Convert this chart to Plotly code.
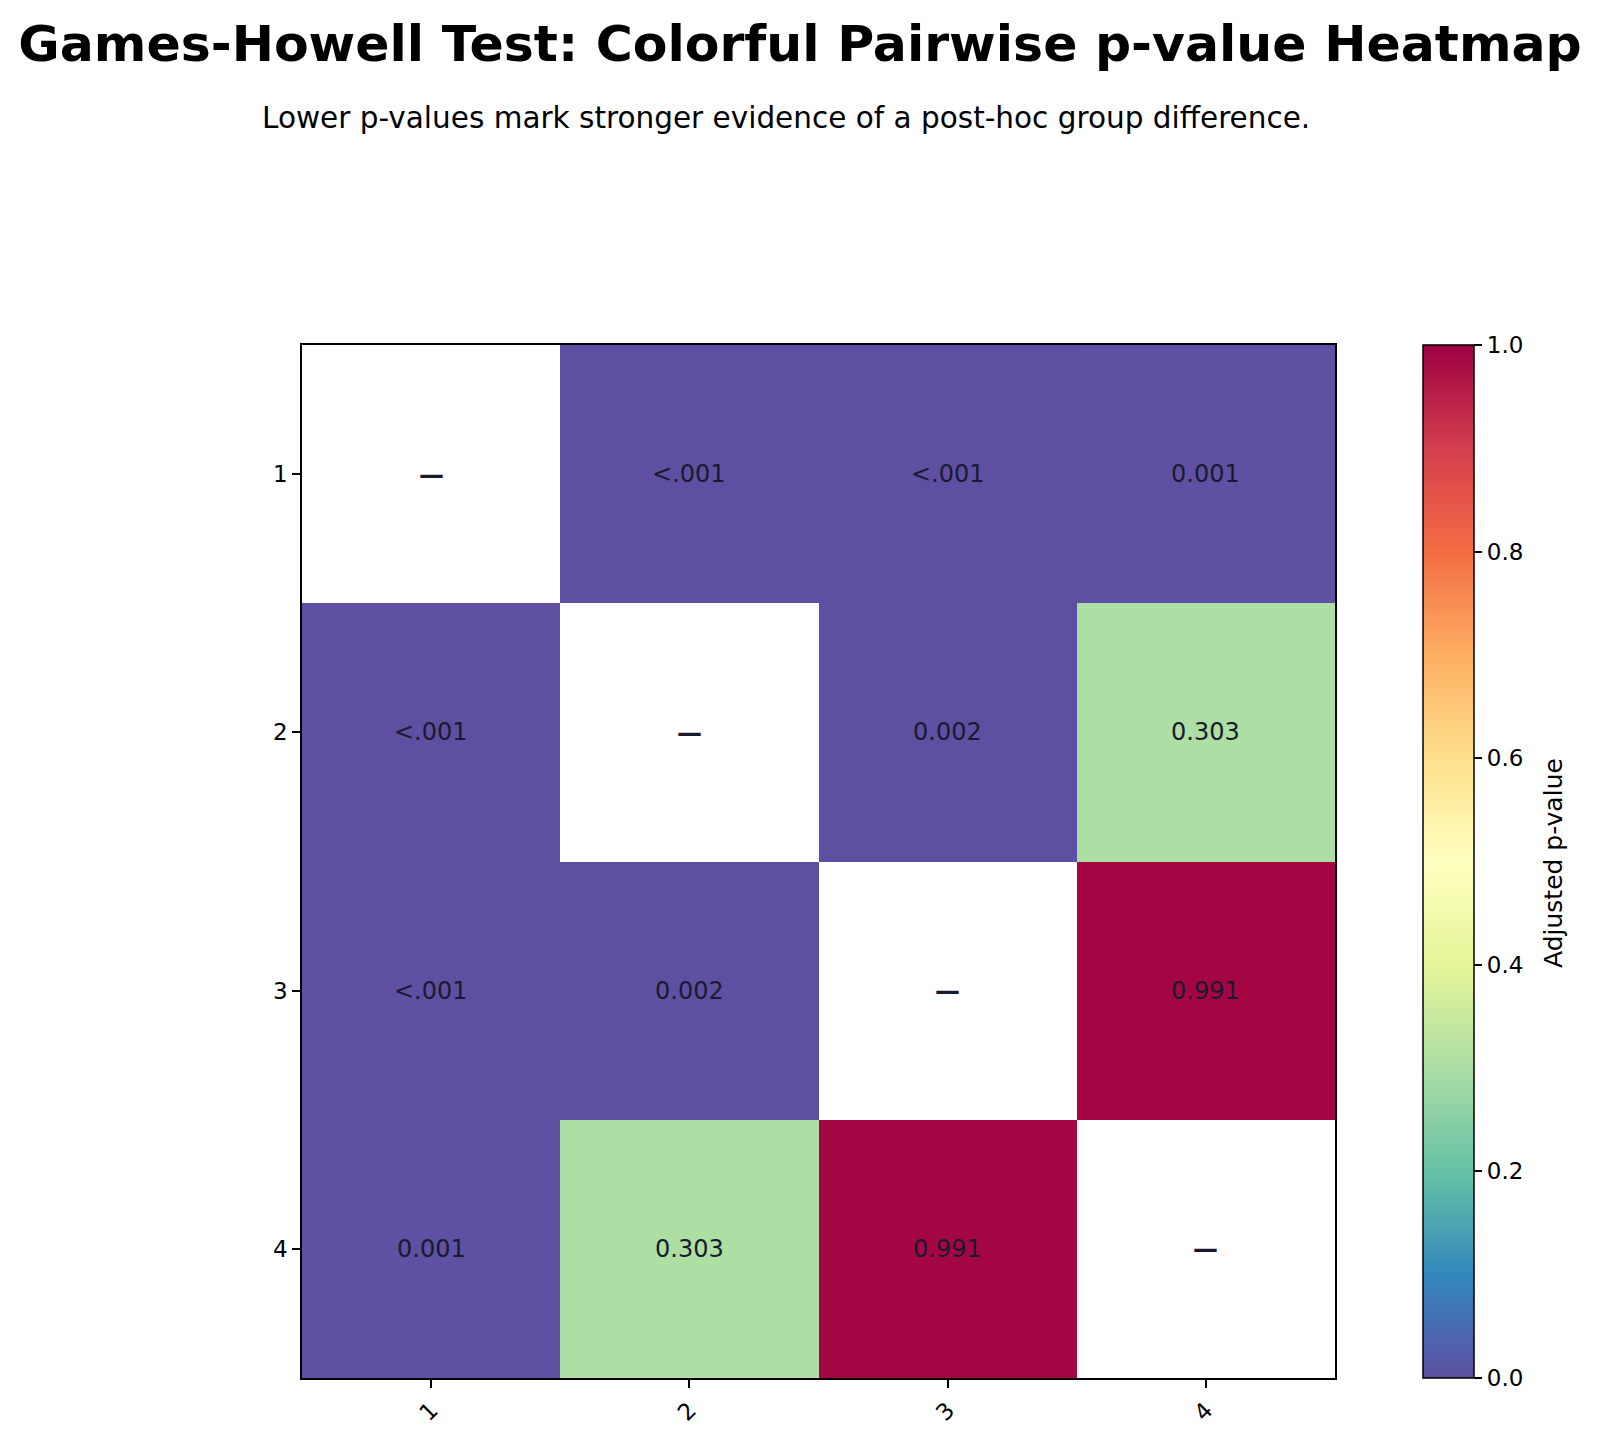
import plotly.graph_objects as go
import numpy as np

groups = ["1", "2", "3", "4"]
# Upper-triangle pairwise adjusted p-values (Games-Howell)
pair_a = ["1", "1", "1", "2", "2", "3"]
pair_b = ["2", "3", "4", "3", "4", "4"]
pair_p = [0.0004, 0.0004, 0.001, 0.002, 0.303, 0.991]

title_text = "Games-Howell Test: Colorful Pairwise p-value Heatmap"
subtitle_text = "Lower p-values mark stronger evidence of a post-hoc group difference."
cbar_title = "Adjusted p-value"

n = len(groups)
idx = {g: i for i, g in enumerate(groups)}
z = np.full((n, n), np.nan)
for a, b, p in zip(pair_a, pair_b, pair_p):
    z[idx[a], idx[b]] = p
    z[idx[b], idx[a]] = p

def fmt(p):
    return "<.001" if p < 0.001 else f"{p:.3f}"

spectral_r = ["#5e4fa2", "#3288bd", "#66c2a5", "#abdda4", "#e6f598", "#ffffbf",
              "#fee08b", "#fdae61", "#f46d43", "#d53e4f", "#9e0142"]
colorscale = [[i / 10, c] for i, c in enumerate(spectral_r)]

FONT = "DejaVu Sans"
W, H = 1600, 1444
L, R, T, B = 302, 1335, 345, 1378
pw, ph = R - L, B - T

fig = go.Figure(go.Heatmap(
    z=z, x=groups, y=groups, colorscale=colorscale, zmin=0, zmax=1,
    hoverongaps=False,
    colorbar=dict(
        x=(1423 - L) / pw, xanchor="left", xpad=0, ypad=0,
        y=0.5, yanchor="middle", len=1, lenmode="fraction",
        thickness=51, outlinewidth=1.5, outlinecolor="black",
        tickvals=[0, 0.2, 0.4, 0.6, 0.8, 1.0], tickformat=".1f",
        ticks="outside", ticklen=8, tickwidth=1.5, tickcolor="black",
        tickfont=dict(family=FONT, size=23, color="black"),
    ),
))

annotations = []
for i in range(n):
    for j in range(n):
        if i == j:
            annotations.append(dict(x=j, y=i, xref="x", yref="y", text="<b>—</b>",
                                    showarrow=False,
                                    font=dict(family=FONT, size=25, color="#1a1a2e")))
        else:
            annotations.append(dict(x=j, y=i, xref="x", yref="y", text=fmt(z[i, j]),
                                    showarrow=False,
                                    font=dict(family=FONT, size=24, color="#1a1a2e")))

annotations.append(dict(text=subtitle_text, xref="paper", yref="paper",
                        x=(786 - L) / pw, y=(B - 118) / ph, xanchor="center", yanchor="middle",
                        showarrow=False, font=dict(family=FONT, size=29.5, color="black")))

annotations.append(dict(text=cbar_title, xref="paper", yref="paper",
                        x=(1553 - L) / pw, y=(B - 863) / ph, xanchor="center", yanchor="middle",
                        textangle=-90, showarrow=False,
                        font=dict(family=FONT, size=25, color="black")))

fig.update_layout(
    width=W, height=H,
    margin=dict(l=L, r=W - R, t=T, b=H - B, autoexpand=False),
    paper_bgcolor="white", plot_bgcolor="white",
    title=dict(text="<b>" + title_text + "</b>", x=0.5, xref="container", xanchor="center",
               y=1 - 43 / H, yref="container", yanchor="middle",
               font=dict(family=FONT, size=50.5, color="black")),
    annotations=annotations,
    xaxis=dict(type="category", range=[-0.5, n - 0.5], showline=True, mirror=True,
               linecolor="black", linewidth=1.5,
               ticks="outside", ticklen=8, tickwidth=1.5, tickcolor="black", tickangle=-45,
               showgrid=False, zeroline=False,
               tickfont=dict(family=FONT, size=23, color="black")),
    yaxis=dict(type="category", range=[n - 0.5, -0.5], showline=True, mirror=True,
               linecolor="black", linewidth=1.5,
               ticks="outside", ticklen=8, tickwidth=1.5, tickcolor="black",
               showgrid=False, zeroline=False,
               tickfont=dict(family=FONT, size=23, color="black")),
)

fig.write_html("out.html")
